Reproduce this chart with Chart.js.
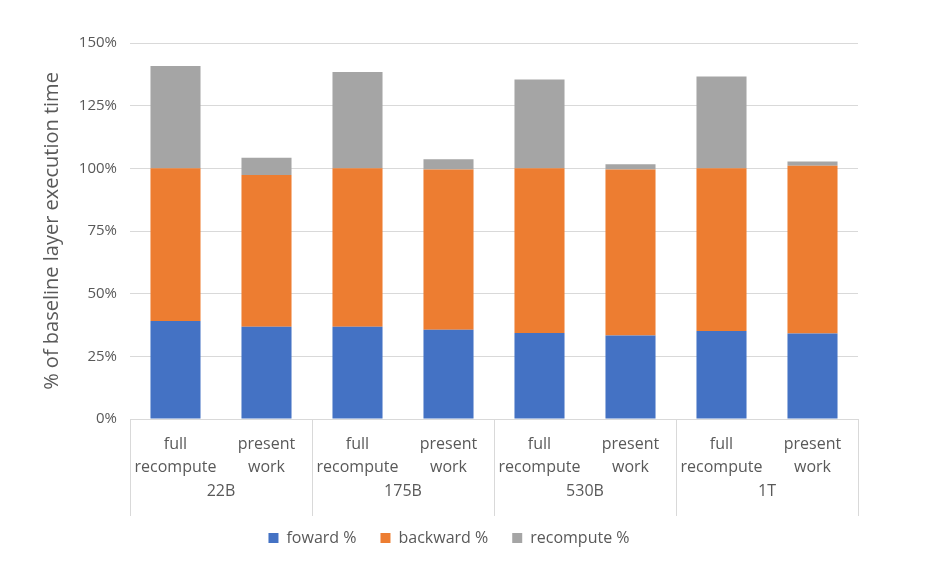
<!DOCTYPE html>
<html>
<head>
<meta charset="utf-8">
<script src="https://cdn.jsdelivr.net/npm/chart.js@4.4.1/dist/chart.umd.min.js"></script>
<style>
  html, body { margin: 0; padding: 0; background: #fff; }
  #wrap { width: 950px; height: 572px; }
</style>
</head>
<body>
<div id="wrap"><canvas id="chart" width="950" height="572"></canvas></div>
<script>
const groups = ['22B', '175B', '530B', '1T'];
const modes = [['full', 'recompute'], ['present', 'work']];
const forward = [39.1, 36.8, 36.8, 35.6, 34.3, 33.3, 35.1, 34.1];
const backward = [60.9, 60.5, 63.2, 63.9, 65.7, 66.2, 64.9, 66.9];
const recompute = [40.8, 6.9, 38.4, 4.1, 35.4, 2.1, 36.6, 1.7];
const yTicks = [0, 25, 50, 75, 100, 125, 150];

const labels = groups.flatMap(() => modes);
const fontFamily = '"Open Sans", "Liberation Sans", sans-serif';
const textColor = '#595959';
const lineColor = '#d9d9d9';

// group separators and group names under the category labels
const groupAxis = {
  id: 'groupAxis',
  afterDraw(chart) {
    const x = chart.scales.x;
    const ctx = chart.ctx;
    const bottom = chart.chartArea.bottom;
    const half = (x.getPixelForValue(1) - x.getPixelForValue(0)) / 2;
    ctx.save();
    ctx.strokeStyle = lineColor;
    ctx.lineWidth = 1;
    for (let g = 0; g <= groups.length; g++) {
      const px = Math.round(x.getPixelForValue(g * modes.length) - half) + 0.5;
      ctx.beginPath();
      ctx.moveTo(px, bottom);
      ctx.lineTo(px, bottom + 97);
      ctx.stroke();
    }
    ctx.fillStyle = textColor;
    ctx.font = '16px ' + fontFamily;
    ctx.textAlign = 'center';
    ctx.textBaseline = 'middle';
    groups.forEach((g, i) => {
      const a = x.getPixelForValue(i * modes.length) - half;
      const b = x.getPixelForValue((i + 1) * modes.length - 1) + half;
      ctx.fillText(g, (a + b) / 2, bottom + 72);
    });
    ctx.restore();
  }
};

new Chart(document.getElementById('chart').getContext('2d'), {
  type: 'bar',
  data: {
    labels: labels,
    datasets: [
      { label: 'foward %', data: forward, backgroundColor: '#4472C4' },
      { label: 'backward %', data: backward, backgroundColor: '#ED7D31' },
      { label: 'recompute %', data: recompute, backgroundColor: '#A5A5A5' }
    ]
  },
  options: {
    responsive: false,
    animation: false,
    layout: { padding: { left: 40, right: 92, top: 43, bottom: 16 } },
    datasets: { bar: { categoryPercentage: 1, barPercentage: 0.55 } },
    plugins: {
      tooltip: { enabled: false },
      legend: {
        position: 'bottom',
        labels: {
          boxWidth: 10, boxHeight: 10, padding: 24,
          color: textColor,
          font: { family: fontFamily, size: 16 }
        }
      }
    },
    scales: {
      x: {
        stacked: true,
        grid: { display: false },
        border: { color: lineColor },
        ticks: {
          color: textColor, padding: 6, maxRotation: 0, autoSkip: false,
          font: { family: fontFamily, size: 16, lineHeight: 1.45 }
        },
        afterFit(scale) { scale.height = 87; }
      },
      y: {
        stacked: true,
        min: 0, max: 150,
        afterBuildTicks(scale) { scale.ticks = yTicks.map(v => ({ value: v })); },
        grid: { color: lineColor, drawTicks: false },
        border: { display: false },
        ticks: {
          color: textColor, padding: 13,
          font: { family: fontFamily, size: 15 },
          callback: v => v + '%'
        },
        title: {
          display: true,
          text: '% of baseline layer execution time',
          color: textColor,
          padding: { top: 0, bottom: 6 },
          font: { family: fontFamily, size: 20 }
        },
        afterFit(scale) { scale.width = 90; }
      }
    }
  },
  plugins: [groupAxis]
});
</script>
</body>
</html>
